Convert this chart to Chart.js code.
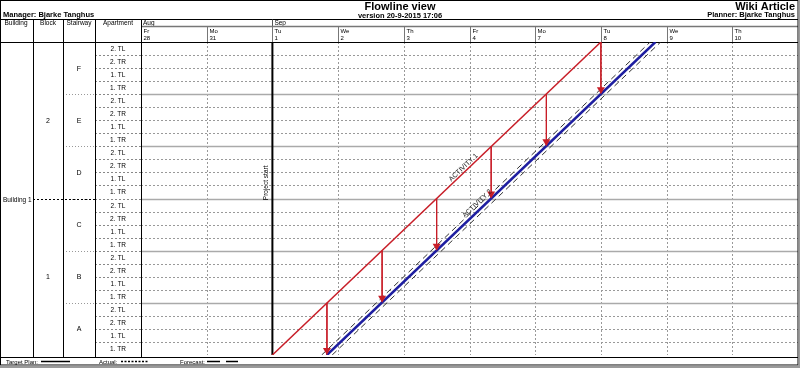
<!DOCTYPE html>
<html>
<head>
<meta charset="utf-8">
<script src="https://cdn.jsdelivr.net/npm/chart.js@4.4.0/dist/chart.umd.min.js"></script>
<style>
html, body { margin: 0; padding: 0; background: #fff; overflow: hidden; }
</style>
</head>
<body>
<canvas id="flowline" width="800" height="368"></canvas>
<script>
// timeline (working days only)
var dayNames = ['Fr', 'Mo', 'Tu', 'We', 'Th', 'Fr', 'Mo', 'Tu', 'We', 'Th'];
var dayDates = ['28', '31', '1', '2', '3', '4', '7', '8', '9', '10'];
var months = ['Aug', 'Sep'];
var monthStarts = [0, 2];

// locations, bottom to top
var stairways = ['A', 'B', 'C', 'D', 'E', 'F'];
var apartments = ['1. TR', '1. TL', '2. TR', '2. TL'];
var blocks = ['1', '2'];
var buildings = ['Building 1'];

// activities (x = working day, y = apartment row from bottom)
var activity1X = [2, 7];
var activity1Y = [0, 24];
var activity2X = [2.83, 7.83];
var activity2Y = [0, 24];
var forecastUpperX = [2.75, 7.75];
var forecastLowerX = [2.91, 7.91];

// links between activity 1 and activity 2 per stairway
var linkX = [2.83, 3.67, 4.5, 5.33, 6.17, 7];
var linkTop = [4, 8, 12, 16, 20, 24];
var linkBottom = [0, 4, 8, 12, 16, 20];

var projectStart = 2;
var activityNames = ['ACTIVITY 1', 'ACTIVITY 2'];

var RED = '#c81e28';
var BLUE = '#1e1ea0';
var FONT = '"Liberation Sans", Arial, sans-serif';

function line(ctx, x1, y1, x2, y2, color, width, dash) {
  ctx.save();
  ctx.beginPath();
  ctx.strokeStyle = color;
  ctx.lineWidth = width;
  ctx.setLineDash(dash || []);
  ctx.moveTo(x1, y1);
  ctx.lineTo(x2, y2);
  ctx.stroke();
  ctx.restore();
}

function text(ctx, s, x, y, size, align, bold, color) {
  ctx.save();
  ctx.font = (bold ? 'bold ' : '') + size + 'px ' + FONT;
  ctx.textAlign = align || 'left';
  ctx.textBaseline = 'alphabetic';
  ctx.fillStyle = color || '#000';
  ctx.fillText(s, x, y);
  ctx.restore();
}

var datasets = [
  {
    label: activityNames[0],
    data: activity1X.map(function(v, i) { return {x: v, y: activity1Y[i]}; }),
    borderColor: RED, borderWidth: 1.5, showLine: true, pointRadius: 0
  },
  {
    label: 'forecast upper',
    data: forecastUpperX.map(function(v, i) { return {x: v, y: activity2Y[i]}; }),
    borderColor: '#333', borderWidth: 1, borderDash: [6, 4], showLine: true, pointRadius: 0
  },
  {
    label: 'forecast lower',
    data: forecastLowerX.map(function(v, i) { return {x: v, y: activity2Y[i]}; }),
    borderColor: '#333', borderWidth: 1, borderDash: [6, 4], showLine: true, pointRadius: 0
  },
  {
    label: activityNames[1],
    data: activity2X.map(function(v, i) { return {x: v, y: activity2Y[i]}; }),
    borderColor: BLUE, borderWidth: 2.5, showLine: true, pointRadius: 0
  }
];
linkX.forEach(function(v, i) {
  datasets.push({
    label: 'link',
    data: [{x: v, y: linkTop[i]}, {x: v, y: linkBottom[i]}],
    borderColor: RED, borderWidth: 1, showLine: true, pointRadius: 0
  });
});

var frame = {
  id: 'frame',
  beforeDatasetsDraw: function(chart) {
    var ctx = chart.ctx, xs = chart.scales.x, ys = chart.scales.y, a = chart.chartArea;
    var colX = [33, 63, 95, 141];
    var W = 798;

    ctx.save();
    ctx.fillStyle = '#fff';
    ctx.fillRect(0, 0, 800, 368);
    ctx.restore();

    // title block
    text(ctx, 'Flowline view', 400, 10, 11, 'center', true);
    text(ctx, 'version 20-9-2015 17:06', 400, 17.5, 7.5, 'center', true);
    text(ctx, 'Manager: Bjarke Tanghus', 3, 17, 7.5, 'left', true);
    text(ctx, 'Wiki Article', 795, 10, 11, 'right', true);
    text(ctx, 'Planner: Bjarke Tanghus', 795, 17, 7.5, 'right', true);
    line(ctx, 0, 19.5, W, 19.5, '#000', 1);

    // column headers
    text(ctx, 'Building', 16, 25, 6.5, 'center');
    text(ctx, 'Block', 48, 25, 6.5, 'center');
    text(ctx, 'Stairway', 79, 25, 6.5, 'center');
    text(ctx, 'Apartment', 118, 25, 6.5, 'center');

    // month row
    months.forEach(function(m, i) {
      var px = xs.getPixelForValue(monthStarts[i]);
      text(ctx, m, px + 2, 25, 6.5, 'left');
      if (i > 0) line(ctx, Math.round(px) + 0.5, 19.5, Math.round(px) + 0.5, 42, '#555', 1);
    });
    line(ctx, a.left, 26.5, W, 26.5, '#777', 1.5);

    // day row
    dayNames.forEach(function(d, i) {
      var px = Math.round(xs.getPixelForValue(i)) + 0.5;
      if (i > 0) line(ctx, px, 26.5, px, 42, '#777', 1);
      text(ctx, d, px + 2, 33, 6, 'left');
      text(ctx, dayDates[i], px + 2, 40, 6, 'left');
    });

    // grid: days
    for (var d = 1; d < dayNames.length; d++) {
      var gx = Math.round(xs.getPixelForValue(d)) + 0.5;
      line(ctx, gx, a.top, gx, a.bottom, '#999', 1, [2, 2]);
    }
    // grid: rows
    var rows = stairways.length * apartments.length;
    for (var r = 1; r < rows; r++) {
      var gy = Math.round(ys.getPixelForValue(r)) + 0.5;
      line(ctx, colX[2], gy, colX[3], gy, '#888', 1, [2, 2]);
      if (r % apartments.length === 0) {
        line(ctx, a.left, gy, a.right, gy, '#aaa', 1.5);
        line(ctx, colX[1], gy, colX[2], gy, '#999', 1, [1, 2]);
      } else {
        line(ctx, a.left, gy, a.right, gy, '#999', 1, [2, 2]);
      }
    }

    // apartment labels
    for (var k = 0; k < rows; k++) {
      var cy = ys.getPixelForValue(k + 0.5) + 2.5;
      text(ctx, apartments[k % apartments.length], 118, cy, 6.5, 'center');
    }
    // stairway labels
    stairways.forEach(function(s, i) {
      var cy = ys.getPixelForValue(i * apartments.length + apartments.length / 2) + 2.5;
      text(ctx, s, 79, cy, 7, 'center');
    });
    // block labels and boundary
    var perBlock = rows / blocks.length;
    blocks.forEach(function(b, i) {
      var cy = ys.getPixelForValue(i * perBlock + perBlock / 2) + 2.5;
      text(ctx, b, 48, cy, 7, 'center');
      if (i > 0) {
        var by = Math.round(ys.getPixelForValue(i * perBlock)) + 0.5;
        line(ctx, colX[0], by, colX[2], by, '#000', 1, [2, 2]);
        text(ctx, buildings[0], 3, by + 2.5, 6.5, 'left');
      }
    });

    // table frame
    line(ctx, 0, 42.5, W, 42.5, '#000', 1);
    colX.forEach(function(cx) { line(ctx, cx + 0.5, 19.5, cx + 0.5, 357, '#000', 1); });

    // project start
    var sx = xs.getPixelForValue(projectStart);
    line(ctx, sx, a.top, sx, a.bottom, '#000', 2);
    ctx.save();
    ctx.translate(sx - 4, a.top + (a.bottom - a.top) * 0.45);
    ctx.rotate(-Math.PI / 2);
    text(ctx, 'Project start', 0, 0, 6.5, 'center');
    ctx.restore();
  },
  afterDatasetsDraw: function(chart) {
    var ctx = chart.ctx, xs = chart.scales.x, ys = chart.scales.y;
    var W = 798;

    // arrowheads on links
    chart.data.datasets.forEach(function(ds, i) {
      if (ds.label !== 'link') return;
      var p = chart.getDatasetMeta(i).data[1];
      ctx.save();
      ctx.fillStyle = RED;
      ctx.beginPath();
      ctx.moveTo(p.x, p.y);
      ctx.lineTo(p.x - 4, p.y - 7);
      ctx.lineTo(p.x + 4, p.y - 7);
      ctx.closePath();
      ctx.fill();
      ctx.restore();
    });

    // activity labels along their lines
    var labelAt = [0.59, 0.47];
    [[activity1X, activity1Y], [activity2X, activity2Y]].forEach(function(act, i) {
      var x0 = xs.getPixelForValue(act[0][0]), y0 = ys.getPixelForValue(act[1][0]);
      var x1 = xs.getPixelForValue(act[0][1]), y1 = ys.getPixelForValue(act[1][1]);
      var ang = Math.atan2(y1 - y0, x1 - x0);
      var t = labelAt[i];
      ctx.save();
      ctx.translate(x0 + (x1 - x0) * t, y0 + (y1 - y0) * t);
      ctx.rotate(ang);
      text(ctx, activityNames[i], 0, i === 0 ? -2 : -4, 7, 'center', false, '#222');
      ctx.restore();
    });

    // footer legend
    line(ctx, 0, 357.5, W, 357.5, '#000', 1);
    text(ctx, 'Target Plan:', 6, 364, 6, 'left');
    line(ctx, 41, 361.5, 70, 361.5, '#000', 1.5);
    text(ctx, 'Actual:', 99, 364, 6, 'left');
    line(ctx, 121, 361.5, 148, 361.5, '#000', 1.5, [2, 1.5]);
    text(ctx, 'Forecast:', 180, 364, 6, 'left');
    line(ctx, 207, 361.5, 220, 361.5, '#000', 1.5);
    line(ctx, 226, 361.5, 238, 361.5, '#000', 1.5);

    // outer border and shadow strip
    ctx.save();
    ctx.strokeStyle = '#000';
    ctx.lineWidth = 1;
    ctx.strokeRect(0.5, 0.5, W - 0.5, 364.5);
    ctx.fillStyle = '#9a9a9a';
    ctx.fillRect(0, 365.5, 800, 3);
    ctx.fillRect(W + 0.5, 0, 2, 368);
    ctx.restore();
  }
};

new Chart('flowline', {
  type: 'scatter',
  data: { datasets: datasets },
  options: {
    responsive: false,
    animation: false,
    layout: { padding: { left: 141, top: 42, right: 2, bottom: 13 } },
    scales: {
      x: { type: 'linear', min: 0, max: 10, display: false },
      y: { type: 'linear', min: 0, max: 24, display: false }
    },
    plugins: { legend: { display: false }, tooltip: { enabled: false } }
  },
  plugins: [frame]
});
</script>
</body>
</html>
